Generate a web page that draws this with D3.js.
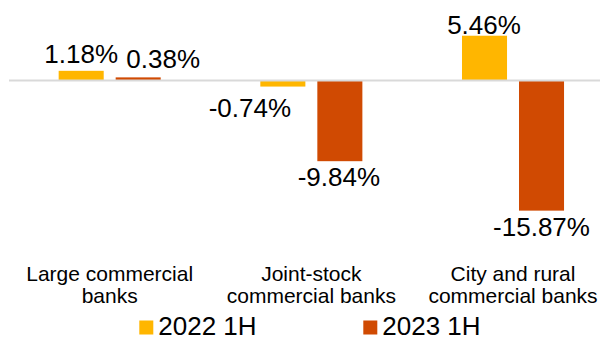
<!DOCTYPE html>
<html>
<head>
<meta charset="utf-8">
<script src="https://cdn.jsdelivr.net/npm/d3@7"></script>
<style>
  html, body { margin: 0; padding: 0; background: #fff; }
  svg { display: block; font-family: "Liberation Sans", Arial, sans-serif; }
</style>
</head>
<body>
<svg id="chart" width="600" height="340"></svg>
<script>
// Year-on-year change by bank type, first half of each year (%)
const categories = [
  ["Large commercial", "banks"],
  ["Joint-stock", "commercial banks"],
  ["City and rural", "commercial banks"]
];
const series = ["2022 1H", "2023 1H"];
const values2022 = [1.18, -0.74, 5.46];
const values2023 = [0.38, -9.84, -15.87];
const colors = ["#FFB600", "#D04A02"];

// per-label nudges [dx, dy] so value labels sit clear of neighbouring bars
const labelNudge = [
  [[0, -7.5], [25, -9.5]],
  [[-33, 30], [-1, 25]],
  [[-0.5, -1.5], [0, 25]]
];

const svg = d3.select("#chart");
const W = 600, H = 340;

const rows = categories.map((c, i) => ({
  key: i,
  lines: c,
  vals: [values2022[i], values2023[i]]
}));

const x0 = d3.scaleBand()
  .domain(rows.map(r => r.key))
  .range([8.85, 613.85])
  .paddingInner(0.494)
  .paddingOuter(0.247);

const x1 = d3.scaleBand()
  .domain(series)
  .range([0, x0.bandwidth()])
  .paddingInner(0.21);

const y = d3.scaleLinear()
  .domain([-16, 6])
  .range([211.7, 31.3]);

// bars
const groups = svg.append("g")
  .selectAll("g")
  .data(rows)
  .join("g")
  .attr("transform", d => `translate(${x0(d.key)},0)`);

groups.selectAll("rect")
  .data(d => d.vals.map((v, j) => ({ v, s: series[j], j })))
  .join("rect")
  .attr("x", d => x1(d.s))
  .attr("width", x1.bandwidth())
  .attr("y", d => Math.min(y(d.v), y(0)))
  .attr("height", d => Math.abs(y(d.v) - y(0)))
  .attr("fill", d => colors[d.j]);

// zero line
svg.append("line")
  .attr("x1", 9).attr("x2", W)
  .attr("y1", y(0)).attr("y2", y(0))
  .attr("stroke", "#d9d9d9")
  .attr("stroke-width", 2);

// value labels, plain hyphen for negatives
const fmt = v => v.toFixed(2) + "%";
groups.each(function (d, i) {
  d3.select(this).selectAll("text.val")
    .data(d.vals.map((v, j) => ({ v, s: series[j], j, n: labelNudge[i][j] })))
    .join("text")
    .attr("class", "val")
    .attr("x", e => x1(e.s) + x1.bandwidth() / 2 + e.n[0])
    .attr("y", e => y(e.v) + e.n[1])
    .attr("text-anchor", "middle")
    .attr("font-size", 26)
    .attr("fill", "#000")
    .text(e => fmt(e.v));
});

// category labels
const cat = svg.append("g")
  .selectAll("text")
  .data(rows)
  .join("text")
  .attr("x", d => x0(d.key) + x0.bandwidth() / 2)
  .attr("y", 280.5)
  .attr("text-anchor", "middle")
  .attr("font-size", 21)
  .attr("fill", "#000");
cat.selectAll("tspan")
  .data(d => d.lines)
  .join("tspan")
  .attr("x", function () { return d3.select(this.parentNode).attr("x"); })
  .attr("dy", (d, i) => i === 0 ? 0 : 22)
  .text(d => d);

// legend
const legendX = [139.3, 363.3];
const legend = svg.append("g")
  .selectAll("g")
  .data(series)
  .join("g")
  .attr("transform", (d, i) => `translate(${legendX[i]},320.5)`);
legend.append("rect")
  .attr("width", 14).attr("height", 14)
  .attr("fill", (d, i) => colors[i]);
legend.append("text")
  .attr("x", 19)
  .attr("y", 14)
  .attr("font-size", 26)
  .attr("fill", "#000")
  .text(d => d);
</script>
</body>
</html>
